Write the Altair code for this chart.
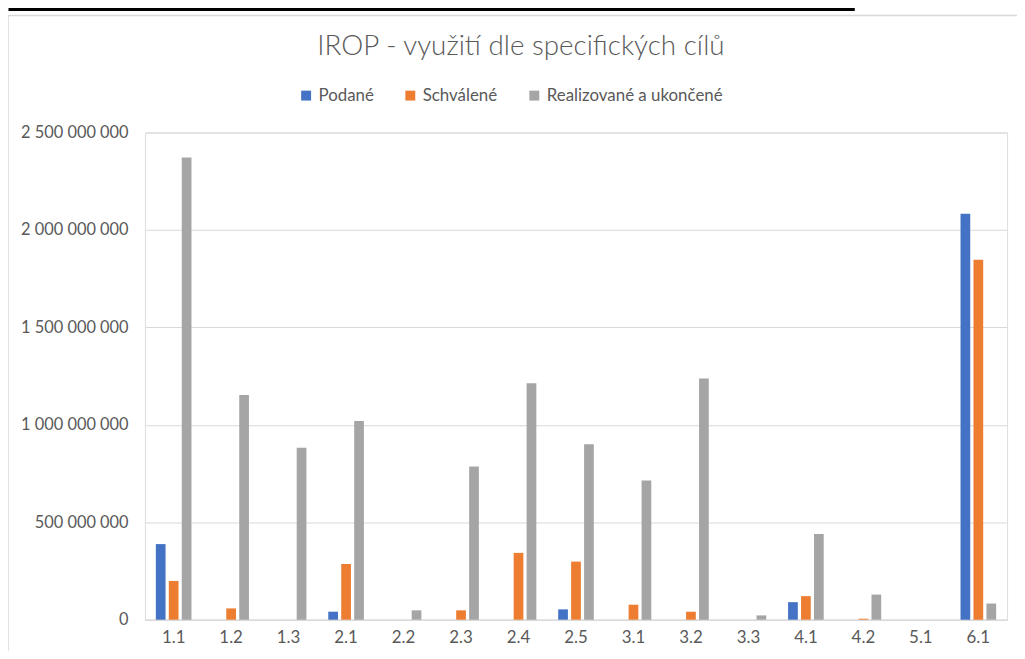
import altair as alt
import pandas as pd

title_text = "IROP - využití dle specifických cílů"
categories = ["1.1", "1.2", "1.3", "2.1", "2.2", "2.3", "2.4", "2.5",
              "3.1", "3.2", "3.3", "4.1", "4.2", "5.1", "6.1"]
series_names = ["Podané", "Schválené", "Realizované a ukončené"]
podane = [388, 0, 0, 41, 0, 0, 0, 53, 0, 0, 0, 90, 0, 0, 2083]
schvalene = [199, 58, 0, 286, 0, 48, 343, 298, 77, 41, 0, 121, 5, 0, 1847]
realizovane = [2372, 1153, 883, 1020, 48, 786, 1214, 901, 714, 1238, 22, 440, 129, 0, 83]
colors = ["#4472C4", "#ED7D31", "#A5A5A5"]
y_ticks = [0, 500_000_000, 1_000_000_000, 1_500_000_000, 2_000_000_000, 2_500_000_000]

rows = []
for name, vals in zip(series_names, [podane, schvalene, realizovane]):
    for c, v in zip(categories, vals):
        rows.append({"cil": c, "serie": name, "hodnota": v * 1_000_000})
df = pd.DataFrame(rows)

TXT = "#595959"
FONT = "Lato"
W, H = 869, 491

bars = alt.Chart(df).mark_bar().encode(
    x=alt.X("cil:N", sort=categories,
            scale=alt.Scale(paddingInner=0.38, paddingOuter=0.19),
            axis=alt.Axis(title=None, labelAngle=0, ticks=False, domain=True,
                          domainColor="#D9D9D9", labelFontSize=17, labelColor=TXT,
                          labelFont=FONT, labelPadding=10, grid=False)),
    xOffset=alt.XOffset("serie:N", sort=series_names,
                        scale=alt.Scale(paddingInner=0.25, paddingOuter=0)),
    y=alt.Y("hodnota:Q", scale=alt.Scale(domain=[0, 2_500_000_000], nice=False),
            axis=alt.Axis(title=None, values=y_ticks, ticks=False, domain=False,
                          gridColor="#D9D9D9", gridWidth=1, labelFontSize=16.5,
                          labelColor=TXT, labelFont=FONT, labelPadding=17,
                          labelExpr="replace(format(datum.value, ',d'), /,/g, ' ')")),
    color=alt.Color("serie:N", sort=series_names,
                    scale=alt.Scale(domain=series_names, range=colors),
                    legend=alt.Legend(title=None, orient="none", direction="horizontal",
                                      legendX=154, legendY=-46, symbolType="square",
                                      symbolSize=100, symbolStrokeWidth=0,
                                      labelFontSize=17, labelColor=TXT, labelFont=FONT,
                                      labelOffset=4, columnPadding=28, labelLimit=400)),
)

one = pd.DataFrame({"a": [0]})

frame = alt.Chart(one).mark_rect(
    fill="transparent", stroke="#D9D9D9", strokeWidth=1.5
).encode(x=alt.value(-138), x2=alt.value(W + 60), y=alt.value(-118), y2=alt.value(H + 80))

topbox = alt.Chart(one).mark_rect(
    fill="transparent", stroke="black", strokeWidth=3
).encode(x=alt.value(-136), x2=alt.value(714), y=alt.value(-160), y2=alt.value(-124))

title = alt.Chart(one).mark_text(
    fontSize=28, font=FONT, fontWeight=300, color=TXT, align="center", baseline="middle"
).encode(text=alt.value(title_text), x=alt.value(379), y=alt.value(-86))

chart = alt.layer(frame, topbox, title, bars).properties(
    width=W, height=H,
    autosize=alt.AutoSizeParams(type="none"),
    padding={"left": 138, "top": 123, "right": 10, "bottom": 29},
).configure_view(stroke=None).configure(background="white")

chart.save("out.html", embed_options={"renderer": "svg", "actions": False})
